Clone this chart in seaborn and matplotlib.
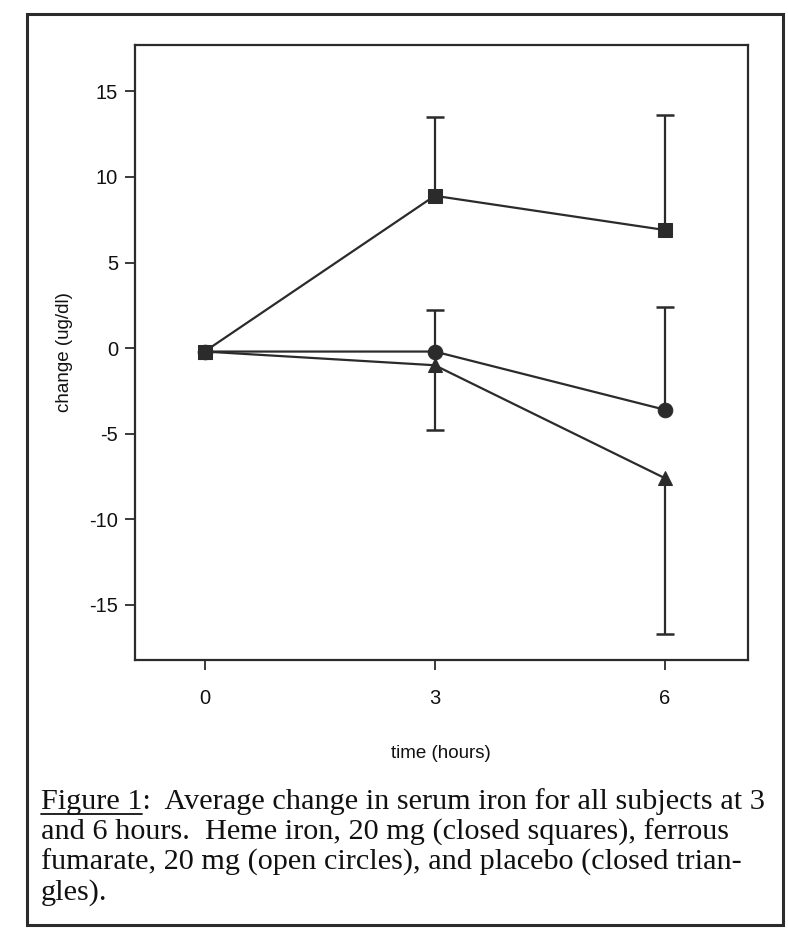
import numpy as np
import pandas as pd
import matplotlib
matplotlib.use("Agg")
import matplotlib.pyplot as plt
import seaborn as sns
from matplotlib.patches import Rectangle
from matplotlib.lines import Line2D

# valeurs (changement moyen du fer sérique, ug/dl)
times = [0, 3, 6]
heme = [-0.2, 8.9, 6.9]
ferrous = [-0.2, -0.2, -3.6]
placebo = [-0.2, -1.0, -7.6]

# extrémités des barres d'erreur (une seule direction par série)
heme_err_end = [None, 13.5, 13.6]
ferrous_err_end = [None, 2.2, 2.4]
placebo_err_end = [None, -4.8, -16.7]

caption_lines = [
    "Figure 1:  Average change in serum iron for all subjects at 3",
    "and 6 hours.  Heme iron, 20 mg (closed squares), ferrous",
    "fumarate, 20 mg (open circles), and placebo (closed trian-",
    "gles).",
]

INK = "#2b2b2b"

df = pd.DataFrame({
    "time": times * 3,
    "change": placebo + ferrous + heme,
    "treatment": ["placebo"] * 3 + ["ferrous"] * 3 + ["heme"] * 3,
})

sns.set_theme(style="ticks")
plt.rcParams["font.family"] = ["Liberation Sans", "DejaVu Sans"]
plt.rcParams["axes.unicode_minus"] = False

fig = plt.figure(figsize=(7.88, 9.41), dpi=100)
ax = fig.add_axes([0.171, 0.299, 0.778, 0.653])

sns.lineplot(
    data=df, x="time", y="change", style="treatment",
    markers={"heme": "s", "ferrous": "o", "placebo": "^"},
    dashes=False, color=INK, linewidth=1.6, markersize=10.5,
    markeredgecolor=INK, legend=False, ax=ax,
)

# barres d'erreur : tige + petite barre horizontale à l'extrémité
for vals, ends in [(heme, heme_err_end), (ferrous, ferrous_err_end), (placebo, placebo_err_end)]:
    for t, v, e in zip(times, vals, ends):
        if e is None:
            continue
        ax.vlines(t, v, e, color=INK, linewidth=1.6)
        ax.plot([t], [e], marker="_", markersize=13, markeredgewidth=1.8, color=INK)

ax.set_xlim(-0.91, 7.08)
ax.set_ylim(-18.2, 17.7)
ax.set_xticks(times)
ax.set_yticks([15, 10, 5, 0, -5, -10, -15])
ax.tick_params(axis="both", direction="out", length=7, width=1.3, color=INK,
               labelsize=14.5, labelcolor="#111111", pad=5)
ax.tick_params(axis="x", pad=14)
for s in ax.spines.values():
    s.set_linewidth(1.6)
    s.set_color(INK)
ax.set_xlabel("time (hours)", fontsize=13.5, color="#111111", labelpad=27)
ax.set_ylabel("change (ug/dl)", fontsize=13.5, color="#111111", labelpad=12)

# cadre extérieur de la figure
fig.add_artist(Rectangle((0.034, 0.017), 0.96, 0.968, transform=fig.transFigure,
                         fill=False, edgecolor=INK, linewidth=2.2))

# légende sous forme de texte
serif = ["Liberation Serif", "DejaVu Serif"]
y0 = 0.140
for i, line in enumerate(caption_lines):
    fig.text(0.052, y0 - i * 0.0322, line, fontsize=21.8, color="#111111",
             family=serif, va="baseline")

# soulignement de "Figure 1"
fig.canvas.draw()
r = fig.canvas.get_renderer()
tmp = fig.text(0.052, y0, "Figure 1", fontsize=21.8, family=serif, va="baseline", alpha=0)
bb = tmp.get_window_extent(renderer=r).transformed(fig.transFigure.inverted())
fig.add_artist(Line2D([bb.x0, bb.x1], [y0 - 0.005, y0 - 0.005],
                      transform=fig.transFigure, color="#111111", linewidth=1.3))

fig.savefig("out.png", dpi=100, facecolor="white")
